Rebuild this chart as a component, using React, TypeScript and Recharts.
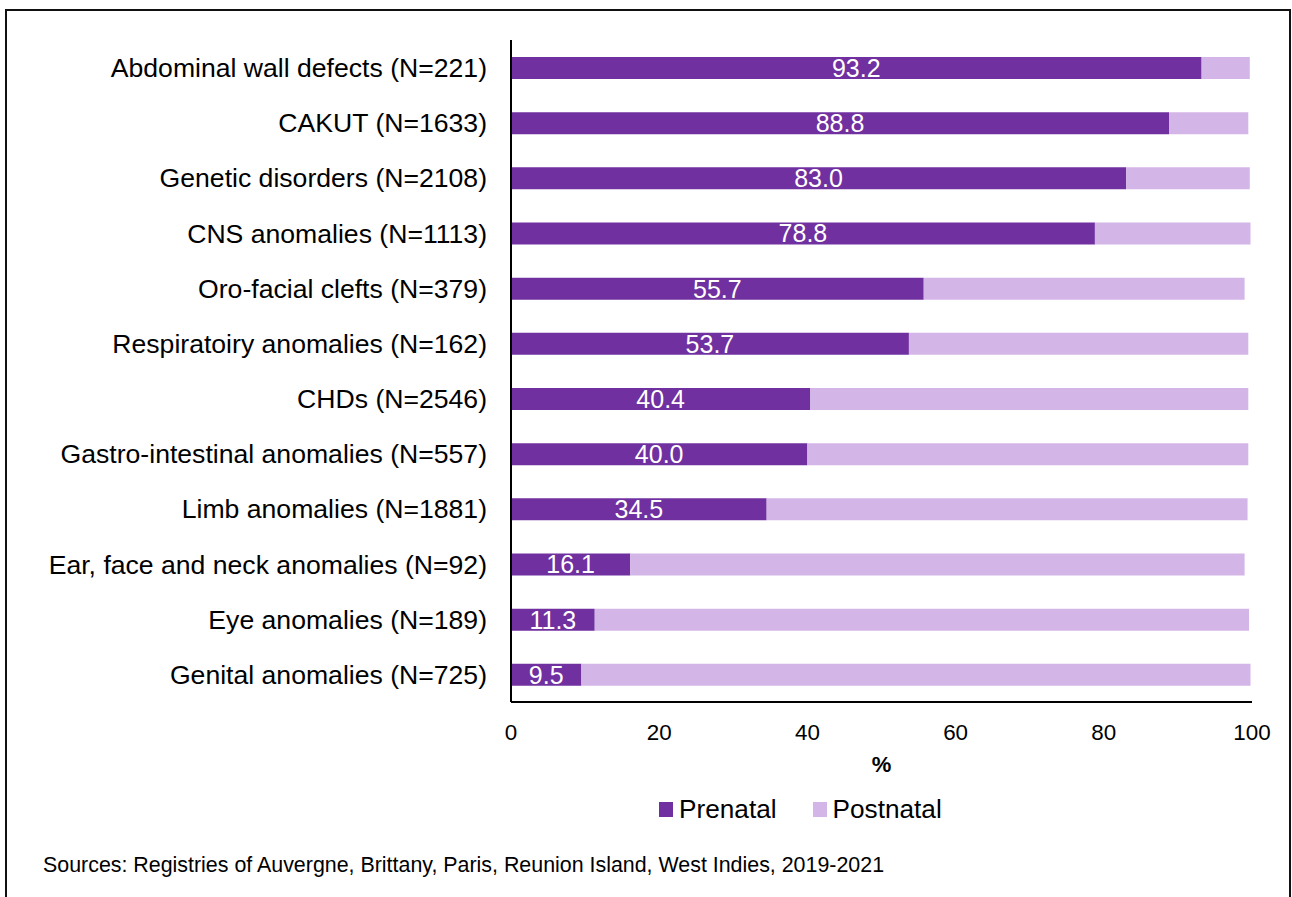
import React from "react";
import { BarChart, Bar, XAxis, YAxis, Legend, LabelList } from "recharts";

// Anomaly groups, top to bottom
const categories = [
  "Abdominal wall defects (N=221)",
  "CAKUT (N=1633)",
  "Genetic disorders (N=2108)",
  "CNS anomalies (N=1113)",
  "Oro-facial clefts (N=379)",
  "Respiratoiry anomalies (N=162)",
  "CHDs (N=2546)",
  "Gastro-intestinal anomalies (N=557)",
  "Limb anomalies (N=1881)",
  "Ear, face and neck anomalies (N=92)",
  "Eye anomalies (N=189)",
  "Genital anomalies (N=725)",
];

// Share of cases diagnosed before / after birth (%)
const prenatal = [93.2, 88.8, 83.0, 78.8, 55.7, 53.7, 40.4, 40.0, 34.5, 16.1, 11.3, 9.5];
const postnatal = [6.5, 10.7, 16.7, 21.0, 43.3, 45.8, 59.1, 59.5, 64.9, 82.9, 88.3, 90.3];

const xTicks = [0, 20, 40, 60, 80, 100];
const legendOrder = ["Prenatal", "Postnatal"];

const PRENATAL_COLOR = "#7030A0";
const POSTNATAL_COLOR = "#D4B5E8";
const FONT = "'Liberation Sans', Arial, sans-serif";

const data = categories.map((name, i) => ({
  name,
  prenatal: prenatal[i],
  postnatal: postnatal[i],
}));

const LegendRow = (props: any) => {
  const items = [...(props.payload || [])].sort(
    (a: any, b: any) => legendOrder.indexOf(a.value) - legendOrder.indexOf(b.value)
  );
  return (
    <div style={{ display: "flex", alignItems: "center", height: 30, fontFamily: FONT }}>
      {items.map((it: any, i: number) => (
        <div
          key={it.value}
          style={{ display: "flex", alignItems: "center", marginLeft: i === 0 ? 0 : 36 }}
        >
          <div style={{ width: 14, height: 15, background: it.color, marginRight: 6 }} />
          <span style={{ fontSize: 26.2, lineHeight: "30px", color: "#000" }}>{it.value}</span>
        </div>
      ))}
    </div>
  );
};

export default function App() {
  return (
    <div
      style={{
        position: "absolute",
        left: 0,
        top: 0,
        width: 1292,
        height: 897,
        background: "#fff",
        overflow: "hidden",
        fontFamily: FONT,
      }}
    >
      <div
        style={{
          position: "absolute",
          left: 5,
          top: 9,
          width: 1286,
          height: 920,
          border: "2px solid #111",
          boxSizing: "border-box",
        }}
      />
      <div style={{ position: "absolute", left: 0, top: 0 }}>
        <BarChart
          width={1292}
          height={897}
          data={data}
          layout="vertical"
          margin={{ top: 40, right: 40, bottom: 165, left: 0 }}
          barSize={22}
        >
          <XAxis
            type="number"
            domain={[0, 100]}
            ticks={xTicks}
            tickLine={false}
            tickSize={0}
            tickMargin={22}
            axisLine={{ stroke: "#000", strokeWidth: 2 }}
            tick={{ fill: "#000", fontSize: 22.4, fontFamily: FONT }}
            height={30}
            label={{
              value: "%",
              position: "bottom",
              offset: 24,
              fill: "#000",
              fontSize: 22,
              fontWeight: "bold",
              fontFamily: FONT,
            }}
          />
          <YAxis
            type="category"
            dataKey="name"
            width={511}
            interval={0}
            tickLine={false}
            tickSize={0}
            tickMargin={24}
            axisLine={{ stroke: "#000", strokeWidth: 2 }}
            tick={{ fill: "#000", fontSize: 26.6, fontFamily: FONT }}
          />
          <Legend
            layout="vertical"
            align="center"
            verticalAlign="middle"
            wrapperStyle={{ position: "absolute", top: 794, left: 659, width: 400 }}
            content={<LegendRow />}
          />
          <Bar
            dataKey="prenatal"
            name="Prenatal"
            stackId="a"
            fill={PRENATAL_COLOR}
            isAnimationActive={false}
          >
            <LabelList
              dataKey="prenatal"
              position="center"
              fill="#fff"
              fontSize={25}
              fontFamily={FONT}
              formatter={(v: any) => Number(v).toFixed(1)}
            />
          </Bar>
          <Bar
            dataKey="postnatal"
            name="Postnatal"
            stackId="a"
            fill={POSTNATAL_COLOR}
            isAnimationActive={false}
          />
        </BarChart>
      </div>
      <div
        style={{
          position: "absolute",
          left: 43,
          top: 855,
          fontSize: 21.4,
          lineHeight: "21px",
          color: "#000",
          whiteSpace: "nowrap",
        }}
      >
        Sources: Registries of Auvergne, Brittany, Paris, Reunion Island, West Indies, 2019-2021
      </div>
    </div>
  );
}
